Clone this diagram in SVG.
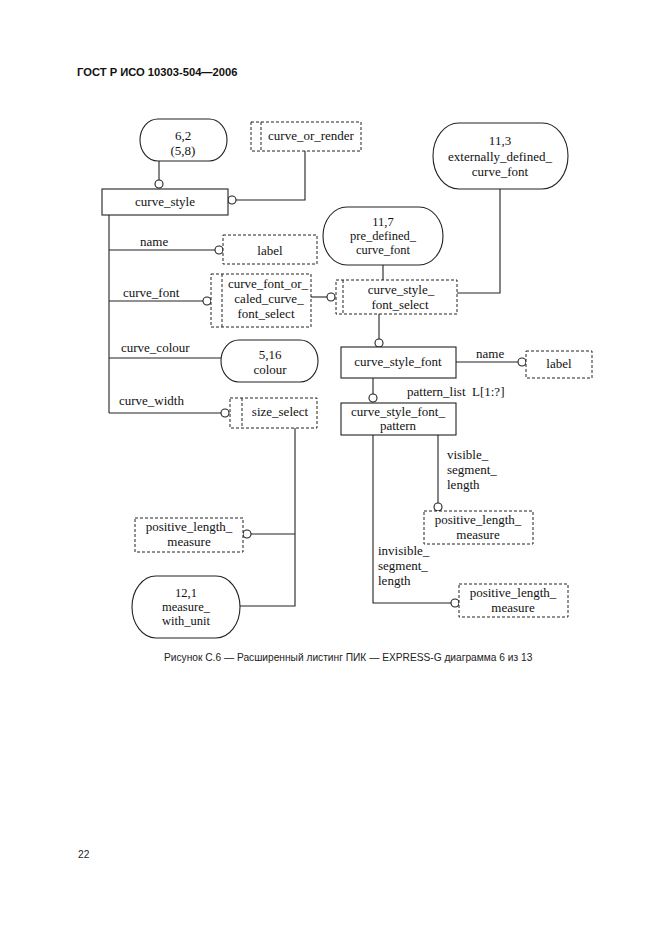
<svg xmlns="http://www.w3.org/2000/svg" width="661" height="936" viewBox="0 0 661 936">
<style>
  .bg{fill:#ffffff}
  .box{fill:#ffffff;stroke:#222;stroke-width:1.1}
  .dash{fill:#ffffff;stroke:#222;stroke-width:1;stroke-dasharray:3,2}
  .dl{fill:none;stroke:#222;stroke-width:1;stroke-dasharray:3,2}
  .ln{fill:none;stroke:#222;stroke-width:1.1}
  .c{fill:#ffffff;stroke:#222;stroke-width:1.1}
  .t{font-family:"Liberation Serif","Times New Roman",serif;font-size:13px;fill:#111}
  .s{font-size:12.5px}
  .m{text-anchor:middle}
  .h{font-family:"Liberation Sans",Arial,sans-serif;font-weight:bold;font-size:11.2px;fill:#111}
  .cap{font-family:"Liberation Sans",Arial,sans-serif;font-size:10.2px;fill:#222}
</style>
<rect class="bg" x="0" y="0" width="661" height="936"/>
<text class="h" x="77" y="76">ГОСТ Р ИСО 10303-504—2006</text>

<g id="connectors">
  <line class="ln" x1="159" y1="161" x2="159" y2="180"/>
  <circle class="c" cx="159" cy="184" r="4"/>
  <polyline class="ln" points="236,200 305,200 305,151"/>
  <circle class="c" cx="232" cy="200" r="4"/>
  <line class="ln" x1="109" y1="215" x2="109" y2="413"/>
  <line class="ln" x1="109" y1="250" x2="215" y2="250"/>
  <circle class="c" cx="219" cy="250" r="4"/>
  <line class="ln" x1="109" y1="301" x2="203" y2="301"/>
  <circle class="c" cx="207" cy="301" r="4"/>
  <line class="ln" x1="109" y1="358" x2="221" y2="358"/>
  <line class="ln" x1="109" y1="413" x2="221" y2="413"/>
  <circle class="c" cx="225" cy="413" r="4"/>
  <line class="ln" x1="311" y1="297" x2="327" y2="297"/>
  <circle class="c" cx="331" cy="297" r="4"/>
  <line class="ln" x1="383" y1="265" x2="383" y2="280"/>
  <polyline class="ln" points="500,189 500,293 457,293"/>
  <line class="ln" x1="379" y1="314" x2="379" y2="339"/>
  <circle class="c" cx="379" cy="343" r="4"/>
  <line class="ln" x1="456" y1="362" x2="518" y2="362"/>
  <circle class="c" cx="522" cy="362" r="4"/>
  <line class="ln" x1="373" y1="378" x2="373" y2="394"/>
  <circle class="c" cx="373" cy="398" r="4"/>
  <line class="ln" x1="438" y1="435" x2="438" y2="503"/>
  <circle class="c" cx="438" cy="507" r="4"/>
  <polyline class="ln" points="373,435 373,603 451,603"/>
  <circle class="c" cx="455" cy="603" r="4"/>
  <polyline class="ln" points="295,428 295,606 240,606"/>
  <line class="ln" x1="295" y1="534" x2="251" y2="534"/>
  <circle class="c" cx="247" cy="534" r="4"/>
  <text class="t" x="140" y="246">name</text>
  <text class="t" x="123" y="297">curve_font</text>
  <text class="t" x="121" y="352">curve_colour</text>
  <text class="t" x="119" y="405">curve_width</text>
  <text class="t" x="476" y="358">name</text>
  <text class="t" x="407" y="396" xml:space="preserve">pattern_list  L[1:?]</text>
  <text class="t" x="447" y="459">visible_</text>
  <text class="t" x="447" y="474">segment_</text>
  <text class="t" x="447" y="489">length</text>
  <text class="t" x="378" y="555">invisible_</text>
  <text class="t" x="378" y="570">segment_</text>
  <text class="t" x="378" y="585">length</text>
</g>

<g id="ref_6_2">
  <rect class="box" x="140" y="119" width="87" height="42" rx="18" ry="21"/>
  <text class="t m" x="183" y="140">6,2</text>
  <text class="t m" x="183" y="155">(5,8)</text>
</g>
<g id="curve_or_render">
  <rect class="dash" x="251" y="122" width="110" height="29"/>
  <line class="dl" x1="261" y1="122" x2="261" y2="151"/>
  <text class="t m" x="311" y="140">curve_or_render</text>
</g>
<g id="curve_style">
  <rect class="box" x="102" y="189" width="126" height="26"/>
  <text class="t m" x="165" y="206">curve_style</text>
</g>
<g id="ref_11_3">
  <rect class="box" x="433" y="123" width="135" height="66" rx="26" ry="33"/>
  <text class="t m" x="500" y="145">11,3</text>
  <text class="t m" x="500" y="160.5">externally_defined_</text>
  <text class="t m" x="500" y="176">curve_font</text>
</g>
<g id="ref_11_7">
  <rect class="box" x="323" y="207" width="120" height="58" rx="24" ry="29"/>
  <text class="t s m" x="383" y="225.5">11,7</text>
  <text class="t s m" x="383" y="239.5">pre_defined_</text>
  <text class="t s m" x="383" y="253.5">curve_font</text>
</g>
<g id="label_1">
  <rect class="dash" x="223" y="235" width="94" height="29"/>
  <text class="t m" x="270" y="255">label</text>
</g>
<g id="curve_font_or_scaled_curve_font_select">
  <rect class="dash" x="211" y="274" width="100" height="53"/>
  <line class="dl" x1="222" y1="274" x2="222" y2="327"/>
  <text class="t m" x="268" y="288">curve_font_or_</text>
  <text class="t m" x="269" y="303">caled_curve_</text>
  <text class="t m" x="266" y="318">font_select</text>
</g>
<g id="curve_style_font_select">
  <rect class="dash" x="336" y="280" width="121" height="34"/>
  <line class="dl" x1="343" y1="280" x2="343" y2="314"/>
  <text class="t m" x="401" y="294">curve_style_</text>
  <text class="t m" x="400" y="309">font_select</text>
</g>
<g id="ref_5_16">
  <rect class="box" x="221" y="340" width="97" height="42" rx="18" ry="21"/>
  <text class="t m" x="270" y="359">5,16</text>
  <text class="t m" x="270" y="374">colour</text>
</g>
<g id="size_select">
  <rect class="dash" x="230" y="398" width="87" height="30"/>
  <line class="dl" x1="242" y1="398" x2="242" y2="428"/>
  <text class="t m" x="280" y="416">size_select</text>
</g>
<g id="curve_style_font">
  <rect class="box" x="341" y="347" width="115" height="31"/>
  <text class="t m" x="398" y="366">curve_style_font</text>
</g>
<g id="label_2">
  <rect class="dash" x="526" y="351" width="66" height="27"/>
  <text class="t m" x="559" y="368">label</text>
</g>
<g id="curve_style_font_pattern">
  <rect class="box" x="341" y="403" width="115" height="32"/>
  <text class="t m" x="398" y="416">curve_style_font_</text>
  <text class="t m" x="398" y="430">pattern</text>
</g>
<g id="positive_length_measure_1">
  <rect class="dash" x="424" y="511" width="109" height="33"/>
  <text class="t m" x="478" y="524">positive_length_</text>
  <text class="t m" x="478" y="539">measure</text>
</g>
<g id="positive_length_measure_2">
  <rect class="dash" x="459" y="584" width="109" height="33"/>
  <text class="t m" x="513" y="597">positive_length_</text>
  <text class="t m" x="513" y="612">measure</text>
</g>
<g id="positive_length_measure_3">
  <rect class="dash" x="135" y="518" width="108" height="34"/>
  <text class="t m" x="189" y="531">positive_length_</text>
  <text class="t m" x="189" y="546">measure</text>
</g>
<g id="ref_12_1">
  <rect class="box" x="132" y="576" width="108" height="62" rx="24" ry="31"/>
  <text class="t s m" x="186" y="597">12,1</text>
  <text class="t s m" x="186" y="611">measure_</text>
  <text class="t s m" x="186" y="625">with_unit</text>
</g>

<text class="cap" x="164" y="661">Рисунок С.6 — Расширенный листинг ПИК — EXPRESS-G диаграмма 6 из 13</text>
<text class="cap" x="78" y="858">22</text>
</svg>
